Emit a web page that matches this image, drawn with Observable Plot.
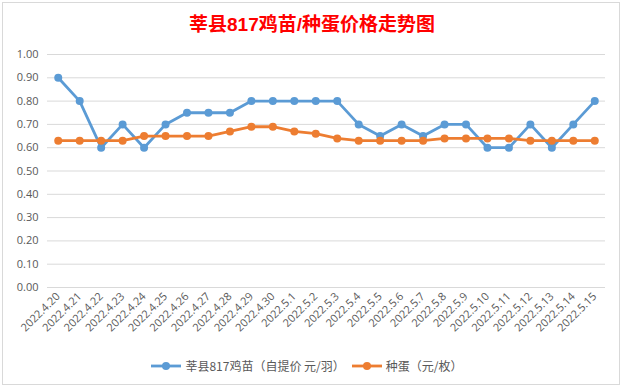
<!DOCTYPE html>
<html>
<head>
<meta charset="utf-8">
<script src="https://cdn.jsdelivr.net/npm/d3@7"></script>
<script src="https://cdn.jsdelivr.net/npm/@observablehq/plot@0.6"></script>
<style>
  html, body { margin: 0; padding: 0; background: #fff; }
  #wrap { position: relative; width: 624px; height: 388px; overflow: hidden; font-family: "Open Sans", "Noto Sans CJK SC", sans-serif; }
  #frame { position: absolute; left: 2px; top: 2px; width: 616px; height: 381px; border: 1px solid #d9d9d9; }
  #title { position: absolute; left: 0; width: 624px; top: 9px; text-align: center; color: #ff0000; font-weight: bold; font-size: 19px; font-family: "Liberation Sans", "Noto Sans CJK SC", sans-serif; }
  #chart { position: absolute; left: 0; top: 40px; }
  #legend { position: absolute; left: 0; width: 614px; top: 357px; display: flex; justify-content: center; gap: 7px; font-size: 12px; color: #595959; font-family: "Noto Sans CJK SC", sans-serif; }
  #legend .item { display: flex; align-items: center; gap: 4px; }
</style>
</head>
<body>
<div id="wrap">
  <div id="frame"></div>
  <div id="title">莘县817鸡苗/种蛋价格走势图</div>
  <div id="chart"></div>
  <div id="legend"></div>
</div>
<script>
const dates = ["2022.4.20","2022.4.21","2022.4.22","2022.4.23","2022.4.24","2022.4.25","2022.4.26","2022.4.27","2022.4.28","2022.4.29","2022.4.30","2022.5.1","2022.5.2","2022.5.3","2022.5.4","2022.5.5","2022.5.6","2022.5.7","2022.5.8","2022.5.9","2022.5.10","2022.5.11","2022.5.12","2022.5.13","2022.5.14","2022.5.15"];
const chickPrice = [0.90,0.80,0.60,0.70,0.60,0.70,0.75,0.75,0.75,0.80,0.80,0.80,0.80,0.80,0.70,0.65,0.70,0.65,0.70,0.70,0.60,0.60,0.70,0.60,0.70,0.80];
const eggPrice = [0.63,0.63,0.63,0.63,0.65,0.65,0.65,0.65,0.67,0.69,0.69,0.67,0.66,0.64,0.63,0.63,0.63,0.63,0.64,0.64,0.64,0.64,0.63,0.63,0.63,0.63];
const seriesNames = ["莘县817鸡苗（自提价 元/羽）", "种蛋（元/枚）"];
const colors = ["#5b9bd5", "#ed7d31"];
const yTicks = [0,0.1,0.2,0.3,0.4,0.5,0.6,0.7,0.8,0.9,1.0];

const data = [];
dates.forEach((d, i) => {
  data.push({date: d, value: chickPrice[i], series: seriesNames[0]});
  data.push({date: d, value: eggPrice[i], series: seriesNames[1]});
});

const chart = Plot.plot({
  width: 624,
  height: 305,
  marginTop: 14,
  marginBottom: 58,
  marginLeft: 47,
  marginRight: 19,
  style: {fontFamily: "Open Sans, sans-serif", fontSize: "11px", color: "#595959", background: "transparent"},
  x: {type: "band", domain: dates, padding: 0, round: false},
  y: {domain: [0, 1]},
  color: {domain: seriesNames, range: colors},
  marks: [
    Plot.gridY(yTicks, {stroke: "#d9d9d9", strokeOpacity: 1, strokeWidth: 1}),
    Plot.axisY(yTicks, {tickSize: 0, tickPadding: 9, tickFormat: d => d.toFixed(2), label: null, fill: "#595959"}),
    Plot.axisX({tickSize: 0, tickRotate: -45, tickPadding: 7, label: null, fill: "#595959"}),
    Plot.line(data, {x: "date", y: "value", z: "series", stroke: "series", strokeWidth: 2.8}),
    Plot.dot(data, {x: "date", y: "value", fill: "series", r: 4})
  ]
});
document.getElementById("chart").appendChild(chart);

const legend = document.getElementById("legend");
seriesNames.forEach((name, i) => {
  const item = document.createElement("div");
  item.className = "item";
  item.innerHTML = `<svg width="30" height="10"><line x1="0" y1="5" x2="30" y2="5" stroke="${colors[i]}" stroke-width="2.8"/><circle cx="15" cy="5" r="4" fill="${colors[i]}"/></svg><span>${name}</span>`;
  legend.appendChild(item);
});
</script>
</body>
</html>
